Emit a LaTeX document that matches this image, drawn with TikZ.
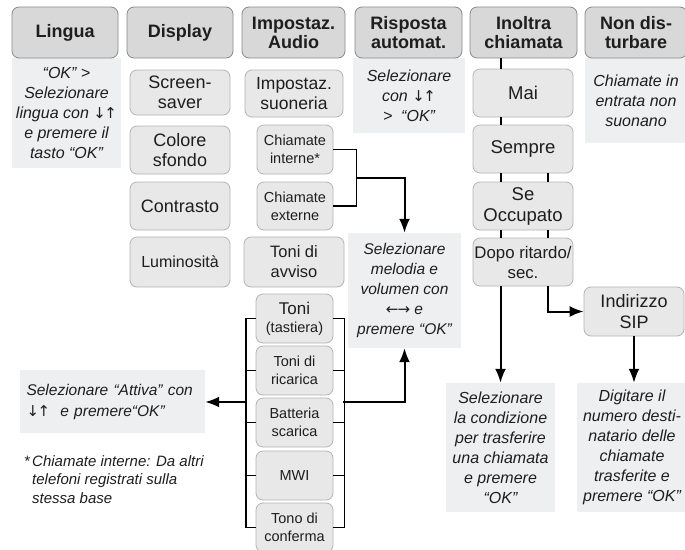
\documentclass[tikz,border=0pt]{standalone}
\usepackage{fontspec}
\setmainfont{Liberation Sans}
\newfontfamily\arrowfont{DejaVu Sans}
\newcommand{\ud}{{\upshape\arrowfont\fontsize{15}{15}\selectfont ↓\kern-1.5pt↑}}
\newcommand{\lr}{{\upshape\arrowfont\fontsize{15}{15}\selectfont ←\kern-1pt→}}
\usetikzlibrary{arrows.meta}
\definecolor{hdrfill}{HTML}{D8D8D8}
\definecolor{hdrdraw}{HTML}{8A8A8A}
\definecolor{boxfill}{HTML}{E8E8E8}
\definecolor{boxdraw}{HTML}{B4B4B4}
\definecolor{notefill}{HTML}{EEEFF1}
\definecolor{txt}{HTML}{1E1E1E}
\tikzset{
  hdr/.style={draw=hdrdraw, fill=hdrfill, rounded corners=7pt, line width=0.8pt, align=center, text=txt, inner sep=0pt, minimum height=51pt, font=\fontsize{18}{19}\selectfont\bfseries},
  mbox/.style={draw=boxdraw, fill=boxfill, rounded corners=7pt, line width=0.8pt, align=center, text=txt, inner sep=0pt, font=\fontsize{18}{20}\selectfont},
  sbox/.style={mbox, font=\fontsize{14.5}{18}\selectfont},
  note/.style={fill=notefill, align=center, text=txt, inner sep=0pt, font=\fontsize{16}{20}\selectfont\itshape},
  conn/.style={line width=2pt, black},
  arr/.style={conn, -{Latex[length=14pt,width=11pt]}},
}
\begin{document}
\begin{tikzpicture}[x=1pt,y=-1pt]
\useasboundingbox (0,0) rectangle (685,549);
\fill[white] (0,0) rectangle (685,549);
% notes
\node[note, minimum width=109pt, minimum height=110pt] (linguanote) at (66.5,113) {“OK” >\\Selezionare\\lingua con \ud\\e premere il\\tasto “OK”};
\node[note, minimum width=112pt, minimum height=75pt] (rispnote) at (409,95.5) {Selezionare\\con \ud\\>\ \ “OK”};
\node[note, minimum width=102pt, minimum height=85pt] (nondnote) at (636,100.5) {Chiamate in\\entrata non\\suonano};
\node[note, minimum width=113pt, minimum height=115pt, font=\fontsize{15.5}{20}\selectfont\itshape] (melodia) at (404.5,290.5) {Selezionare\\melodia e\\volumen con\\\lr\ e\\premere “OK”};
\node[note, minimum width=185pt, minimum height=63pt, align=left, text width=172pt, font=\fontsize{15.5}{21}\selectfont\itshape] (attiva) at (112.5,401.5) {Selezionare “Attiva” con\\\ud\ \ e premere“OK”};
\node[note, minimum width=109pt, minimum height=129pt] (cond) at (500.5,447.5) {Selezionare\\la condizione\\per trasferire\\una chiamata\\e premere\\“OK”};
\node[note, minimum width=110pt, minimum height=129pt] (digit) at (632,447.5) {Digitare il\\numero desti-\\natario delle\\chiamate\\trasferite e\\premere “OK”};
% headers
\node[hdr, minimum width=106pt] (lingua) at (65,32.5) {Lingua};
\node[hdr, minimum width=106pt] (display) at (180,32.5) {Display};
\node[hdr, minimum width=103pt] (audio) at (293.5,32.5) {Impostaz.\\Audio};
\node[hdr, minimum width=107pt] (risposta) at (408.5,32.5) {Risposta\\automat.};
\node[hdr, minimum width=107pt] (inoltra) at (523.5,32.5) {Inoltra\\chiamata};
\node[hdr, minimum width=102pt] (nondist) at (636,32.5) {Non dis-\\turbare};
% display column
\node[mbox, minimum width=100pt, minimum height=45pt] (screen) at (180,92.5) {Screen-\\saver};
\node[mbox, minimum width=100pt, minimum height=48pt] (colore) at (180,150) {Colore\\sfondo};
\node[mbox, minimum width=100pt, minimum height=48pt] (contrasto) at (180,206) {Contrasto};
\node[mbox, minimum width=100pt, minimum height=50pt, font=\fontsize{16}{18}\selectfont] (lumin) at (180,262) {Luminosità};
% audio column
\node[mbox, minimum width=98pt, minimum height=47pt, font=\fontsize{17.5}{20}\selectfont] (suoneria) at (294,93.5) {Impostaz.\\suoneria};
\node[sbox, minimum width=76pt, minimum height=49pt] (interne) at (295,149.5) {Chiamate\\interne*};
\node[sbox, minimum width=76pt, minimum height=48pt] (esterne) at (295,206) {Chiamate\\externe};
\node[mbox, minimum width=100pt, minimum height=50pt, font=\fontsize{16.5}{20}\selectfont] (avviso) at (294,262) {Toni di\\avviso};
\node[sbox, minimum width=77pt, minimum height=49pt] (tastiera) at (294.5,318.5) {{\fontsize{17}{18}\selectfont Toni}\\(tastiera)};
\node[sbox, minimum width=77pt, minimum height=49pt] (ricarica) at (294.5,370.5) {Toni di\\ricarica};
\node[sbox, minimum width=77pt, minimum height=49pt] (batteria) at (294.5,422.5) {Batteria\\scarica};
\node[sbox, minimum width=77pt, minimum height=49pt] (mwi) at (294.5,475.5) {MWI};
\node[sbox, minimum width=77pt, minimum height=49pt] (conferma) at (294.5,527.5) {Tono di\\conferma};
% inoltra column
\node[mbox, minimum width=100pt, minimum height=48pt, font=\fontsize{18.5}{20}\selectfont] (mai) at (523,93) {Mai};
\node[mbox, minimum width=100pt, minimum height=48pt, font=\fontsize{18.5}{20}\selectfont] (sempre) at (523,149) {Sempre};
\node[mbox, minimum width=100pt, minimum height=48pt, font=\fontsize{18.5}{21}\selectfont] (occupato) at (523,206) {Se\\Occupato};
\node[mbox, minimum width=100pt, minimum height=48pt, font=\fontsize{16.8}{20}\selectfont] (dopo) at (523,262) {Dopo ritardo/\\sec.};
\node[mbox, minimum width=100pt, minimum height=49pt, font=\fontsize{18}{21}\selectfont] (sip) at (634,311.5) {Indirizzo\\SIP};
% footnote
\node[anchor=north west, align=left, text=txt, inner sep=0pt, font=\fontsize{15}{18.5}\selectfont\itshape] (foot) at (32,455) {\llap{*\,}Chiamate interne: Da altri\\telefoni registrati sulla\\stessa base};
% connectors inoltra
\draw[conn] ([xshift=-22.5pt]inoltra.south) -- ([xshift=-22pt]mai.north);
\draw[conn] ([xshift=-22pt]mai.south) -- ([xshift=-22pt]sempre.north);
\draw[conn] ([xshift=-22pt]sempre.south) -- ([xshift=-22pt]occupato.north);
\draw[conn] ([xshift=25pt]sempre.south) -- ([xshift=25pt]occupato.north);
\draw[conn] ([xshift=-22pt]occupato.south) -- ([xshift=-22pt]dopo.north);
\draw[conn] ([xshift=25pt]occupato.south) -- ([xshift=25pt]dopo.north);
\draw[arr] (cond.north |- dopo.south) -- (cond.north);
\draw[arr] ([xshift=25pt]dopo.south) |- (sip.west);
\draw[arr] (sip.south) -- (sip.south |- digit.north);
% chiamate bracket
\coordinate (bm) at (356,178);
\draw[conn, line width=1.8pt] (interne.east) -| ([xshift=23pt]esterne.east) -- (esterne.east);
\draw[arr] (bm) -| (melodia.north);
% toni bracket
\draw[conn, line width=1.8pt] (tastiera.west) -- ++(-10pt,0) |- (conferma.west);
\draw[conn, line width=1.8pt] (ricarica.west) -- ++(-10pt,0);
\draw[conn, line width=1.8pt] (batteria.west) -- ++(-10pt,0);
\draw[conn, line width=1.8pt] (mwi.west) -- ++(-10pt,0);
\draw[conn, line width=1.8pt] (tastiera.east) -- ++(11pt,0) |- (conferma.east);
\draw[conn, line width=1.8pt] (ricarica.east) -- ++(11pt,0);
\draw[conn, line width=1.8pt] (batteria.east) -- ++(11pt,0);
\draw[conn, line width=1.8pt] (mwi.east) -- ++(11pt,0);
\coordinate (lb) at (246.5,402);
\coordinate (rb) at (343,402);
\draw[arr] (lb) -- (lb -| attiva.east);
\draw[arr] (rb) -| (melodia.south);
\end{tikzpicture}
\end{document}
